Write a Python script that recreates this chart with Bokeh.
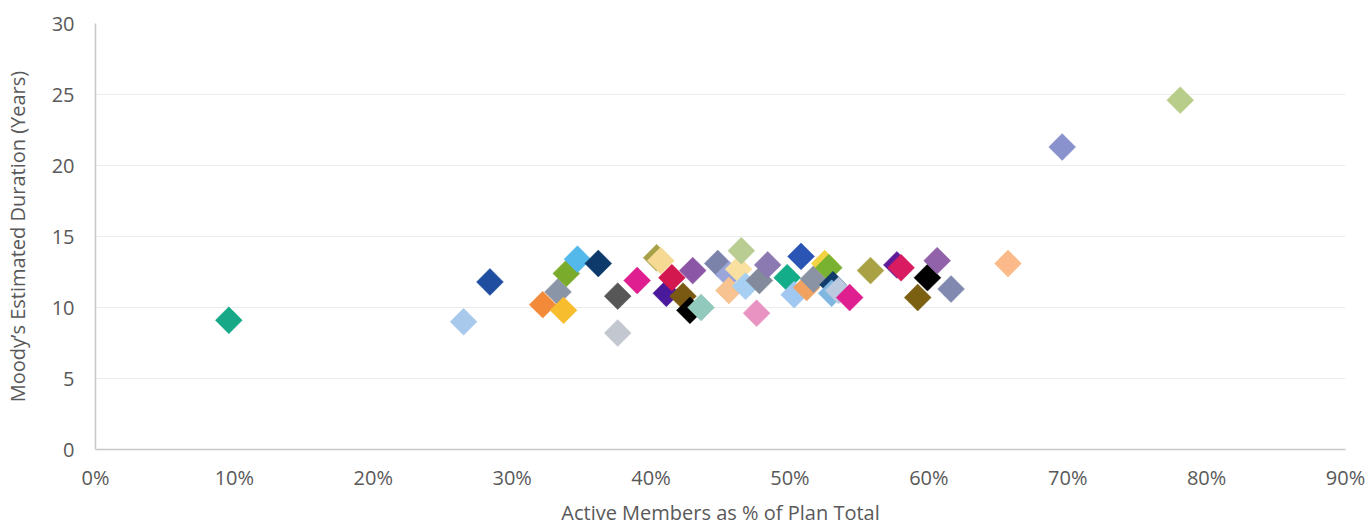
from bokeh.plotting import figure
from bokeh.models import ColumnDataSource, FixedTicker, PrintfTickFormatter, Range1d
from bokeh.embed import file_html
from bokeh.resources import INLINE
import math

# Active members as % of plan total, and Moody's estimated duration (years)
active_pct = [
    9.6, 26.5, 28.4, 33.3, 32.2, 33.7, 33.9, 34.7, 36.2, 37.6,
    37.6, 39.0, 40.4, 40.7, 41.1, 41.5, 42.3, 42.8, 43.6, 43.0,
    44.8, 45.6, 45.6, 46.3, 46.5, 46.8, 47.6, 47.8, 48.4, 49.8,
    50.8, 50.3, 51.2, 51.7, 52.5, 52.8, 53.1, 53.0, 53.5, 54.3,
    55.8, 57.7, 58.0, 59.2, 59.9, 60.6, 61.6, 65.7, 69.6, 78.1,
]
duration = [
    9.1, 9.0, 11.8, 11.1, 10.2, 9.8, 12.4, 13.4, 13.1, 10.8,
    8.2, 11.9, 13.5, 13.3, 11.0, 12.1, 10.8, 9.8, 10.0, 12.6,
    13.1, 12.3, 11.2, 12.7, 14.0, 11.5, 9.6, 11.9, 13.0, 12.1,
    13.6, 10.9, 11.4, 12.0, 13.1, 12.8, 11.6, 11.0, 11.2, 10.7,
    12.6, 13.0, 12.8, 10.7, 12.1, 13.3, 11.3, 13.1, 21.3, 24.6,
]
plan_colors = [
    "#17a887", "#a9c9ec", "#1f4ea0", "#8a95a8", "#f28a3a", "#f8bd2e", "#7aab2b", "#52b9ea", "#0d3a6a", "#575757",
    "#c3c7cf", "#df1f8f", "#a9a14a", "#f6d993", "#4b1a9c", "#d3174f", "#7a5a12", "#000000", "#92c9bd", "#8c56a6",
    "#7c83aa", "#9aa5d9", "#f6c391", "#f9dfa0", "#b9cd93", "#a7cff1", "#e993c2", "#828a9c", "#8b7ab1", "#13ad89",
    "#2a55b4", "#a1c8f0", "#f1a261", "#8a93a3", "#f1d343", "#79b131", "#113b6b", "#7fb7e1", "#bccadf", "#df1f8f",
    "#a9a143", "#5b1b9b", "#d91c61", "#7b6012", "#000000", "#9162a9", "#8189b1", "#fcba8a", "#8a92cd", "#b9cd8b",
]

src = ColumnDataSource(dict(x=active_pct, y=duration, c=plan_colors))

FONT = "Open Sans"
GREY_TEXT = "#595959"
LABEL_SIZE = "20px"

p = figure(
    width=1365, height=528,
    output_backend="svg", toolbar_location=None,
    x_range=Range1d(0, 90), y_range=Range1d(0, 30),
    min_border_left=95, min_border_right=20,
    min_border_top=23, min_border_bottom=79,
)
p.outline_line_color = None
p.background_fill_color = "white"
p.border_fill_color = "white"

p.scatter("x", "y", source=src, marker="square", size=19, angle=math.pi / 4,
          fill_color="c", line_color="c", line_width=0.5)

# x axis
xa = p.xaxis[0]
xa.ticker = FixedTicker(ticks=list(range(0, 91, 10)))
xa.formatter = PrintfTickFormatter(format="%d%%")
xa.axis_label = "Active Members as % of Plan Total"
xa.axis_line_color = "#c8c8c8"
xa.axis_line_width = 1.5
xa.major_tick_line_color = None
xa.minor_tick_line_color = None
xa.major_tick_out = 0
xa.major_tick_in = 0
xa.minor_tick_out = 0
xa.major_label_standoff = 14
xa.axis_label_standoff = 5
xa.major_label_text_font = FONT
xa.major_label_text_font_size = LABEL_SIZE
xa.major_label_text_color = GREY_TEXT
xa.axis_label_text_font = FONT
xa.axis_label_text_font_size = LABEL_SIZE
xa.axis_label_text_font_style = "normal"
xa.axis_label_text_color = GREY_TEXT

# y axis
ya = p.yaxis[0]
ya.ticker = FixedTicker(ticks=list(range(0, 31, 5)))
ya.axis_label = "Moody\u2019s Estimated Duration (Years)"
ya.axis_line_color = "#c8c8c8"
ya.axis_line_width = 1.5
ya.major_tick_line_color = None
ya.minor_tick_line_color = None
ya.major_tick_out = 0
ya.major_tick_in = 0
ya.minor_tick_out = 0
ya.major_label_standoff = 21
ya.axis_label_standoff = 18
ya.major_label_text_font = FONT
ya.major_label_text_font_size = LABEL_SIZE
ya.major_label_text_color = GREY_TEXT
ya.axis_label_text_font = FONT
ya.axis_label_text_font_size = LABEL_SIZE
ya.axis_label_text_font_style = "normal"
ya.axis_label_text_color = GREY_TEXT

p.xgrid.grid_line_color = None
p.ygrid.grid_line_color = "#ececec"
p.ygrid.grid_line_width = 1

open("out.html", "w").write(file_html(p, INLINE))
